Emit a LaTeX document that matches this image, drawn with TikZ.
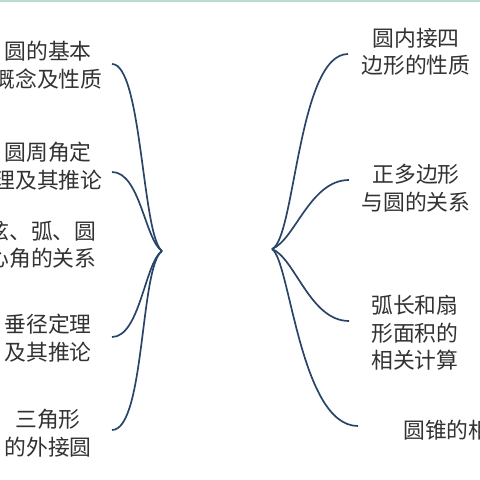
\documentclass[tikz,border=0pt]{standalone}
\usepackage{fontspec}
\newfontfamily\cjk{Noto Sans CJK SC}
\definecolor{linec}{RGB}{40,68,105}
\definecolor{txtc}{RGB}{50,50,50}
\definecolor{topc}{RGB}{185,220,210}
\begin{document}
\begin{tikzpicture}[x=0.025cm,y=-0.025cm,
  lbl/.style={font=\cjk\fontsize{15.5}{19.5}\selectfont,text=txtc,align=center,inner sep=0pt},
  lblw/.style={font=\cjk\fontsize{15.5}{19.5}\selectfont,text=txtc,align=left,inner sep=0pt},
  branch/.style={draw=linec,line width=1.2pt}]
\useasboundingbox (0,0) rectangle (480,480);
\clip (0,0) rectangle (480,480);
\fill[white] (0,0) rectangle (480,480);
\fill[topc] (0,0) rectangle (480,2);
% hubs
\coordinate (hl) at (162,251);
\coordinate (hr) at (272,249);
% left branch ends
\coordinate (l1) at (112,64);
\coordinate (l2) at (112,172);
\coordinate (l4) at (112,337);
\coordinate (l5) at (112,430);
% right branch ends
\coordinate (r1) at (348,54);
\coordinate (r2) at (349,180);
\coordinate (r3) at (349,321);
\coordinate (r4) at (358,426);
% left labels
\node[lbl] (t1) at (48,65) {圆的基本\\概念及性质};
\node[lbl] (t2) at (48,166) {圆周角定\\理及其推论};
\node[lbl] (t3) at (42,245) {弦、弧、圆\\心角的关系};
\node[lbl] (t4) at (48,338) {垂径定理\\及其推论};
\node[lbl] (t5) at (48,433) {三角形\\的外接圆};
% right labels
\node[lbl] (u1) at (416,52) {圆内接四\\边形的性质};
\node[lbl] (u2) at (416,188) {正多边形\\与圆的关系};
\node[lblw,anchor=west] (u3) at (371,333) {弧长和扇\\形面积的\\相关计算};
\node[lblw,anchor=west] (u4) at (403,430) {圆锥的相};
% connectors
\draw[branch] (hl) .. controls (142,236) and (142,64) .. (l1);
\draw[branch] (hl) .. controls (145,240) and (140,172) .. (l2);
\draw[branch] (hl) .. controls (145,262) and (140,337) .. (l4);
\draw[branch] (hl) .. controls (140,266) and (145,430) .. (l5);
\draw[branch] (hr) .. controls (295,240) and (298,54) .. (r1);
\draw[branch] (hr) .. controls (295,240) and (310,180) .. (r2);
\draw[branch] (hr) .. controls (295,258) and (310,321) .. (r3);
\draw[branch] (hr) .. controls (290,260) and (300,426) .. (r4);
\end{tikzpicture}
\end{document}
